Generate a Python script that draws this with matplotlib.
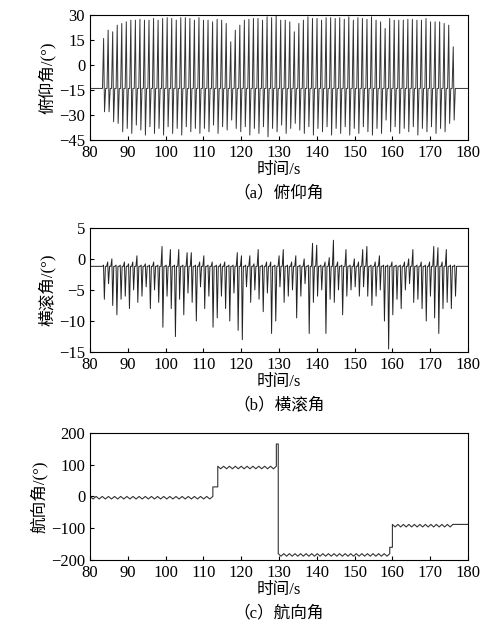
import numpy as np
import matplotlib
matplotlib.use('Agg')
import matplotlib.pyplot as plt

plt.rcParams['font.family'] = ['Liberation Serif', 'Noto Sans CJK SC']
plt.rcParams['font.size'] = 12

# --- data ---
# (a) pitch: per-cycle positive peak and negative peak, baseline
pitch_base = -14
pitch_hi = [16, 21, 20, 24, 25, 26, 27, 27, 27.5, 27, 27, 28, 27, 28, 28.5, 28, 27,
            28.5, 28.5, 28, 27, 28.5, 27, 27, 26, 27.5, 27, 25, 14, 21, 24, 27, 27.5,
            28, 28, 27, 29, 28.5, 29.5, 27, 27, 26, 20, 25, 27, 29, 28, 28, 27, 28.5,
            28.5, 28, 28.5, 27.5, 29, 27, 28.5, 28, 27.5, 29, 27, 26, 22, 28, 27, 27,
            27, 27.5, 27.5, 27, 27, 28, 26, 26, 26, 25, 24, 11]
pitch_lo = [-28, -28, -34, -35, -40, -38, -41, -36, -39, -42, -37, -41, -38, -42, -37,
            -41, -38, -42, -37, -40, -38, -41, -38, -40, -36, -41, -37, -39, -33, -38,
            -40, -37, -42, -38, -41, -37, -43, -38, -40, -36, -41, -38, -35, -39, -41,
            -37, -42, -38, -40, -37, -42, -38, -41, -37, -42, -38, -41, -37, -40, -42,
            -38, -41, -33, -40, -37, -41, -38, -40, -37, -42, -38, -40, -37, -41, -38,
            -40, -35, -33]
pitch_t0, pitch_t1 = 83.3, 175.8

# (b) roll: per-cycle upper spike and lower dip, baseline
roll_base = -1.2
roll_hi = [-1, -0.5, 0, -1, -1, -0.5, -0.8, -0.5, 0.5, -1, -0.8, -1, -0.5, -1, 2, -1, 1.5,
           -1, 1.5, -1, 1, 1, -1, -0.5, 0.5, -1, -0.5, -1, -0.8, -0.5, -1, -1, 1, 0.5,
           -1, 0.5, -0.8, 1.5, -1, -0.5, -0.5, -1, 0.5, 1.5, -1, -0.5, 0.5, -1, 0, -1,
           2.5, 2.2, -1, -0.5, 0.2, 3, -0.5, -1, 1.5, -1, 0, -0.5, 1.5, 2, -1, -0.5,
           0.5, -1, -1, -0.5, -1, -1, -0.5, 0, 1.5, -1, -0.5, -1, -0.5, 2, 1.8, -0.5,
           1.5, -1, -1]
roll_lo = [-6.5, -4, -7.5, -9, -6.5, -6, -8, -5, -7, -6, -4.5, -8, -5, -7, -11, -6, -8,
           -12.5, -6.5, -9, -5.5, -7, -10, -4.5, -8, -6, -11, -9.5, -6, -8, -10, -5.5,
           -11.5, -13, -4.5, -7, -5, -6.5, -8.5, -5.5, -12, -10, -4.5, -7, -6, -5,
           -9.5, -6, -4, -12, -7, -6, -5, -12, -6.5, -7, -5, -9, -6, -5, -4.5, -6,
           -4.5, -6, -7.5, -6, -5, -10, -14.5, -9, -6.5, -8, -5, -4, -7, -6.5, -8,
           -10, -6, -9.5, -12, -8, -7, -8, -6]
roll_t0, roll_t1 = 83.3, 176.2

# (c) heading: segment levels, ripple depth and ripple count
head_edges = [80, 112.5, 113.8, 129.3, 129.8, 159.3, 160.0, 176.0, 180]
head_levels = [0, 30, 95, 165, -180, -160, -88, -88]
head_ripples = [20, 0, 10, 0, 20, 0, 11, 0]
head_depth = [8, 0, 8, 0, 8, 0, 8, 0]


def spike_series(t0, t1, base, hi, lo):
    n = len(hi)
    starts = np.linspace(t0, t1, n)
    step = (t1 - t0) / (n - 1)
    t = [80.0]
    y = [base]
    for s, h, l in zip(starts, hi, lo):
        t += [s, s + 0.25 * step, s + 0.45 * step, s + 0.7 * step]
        y += [base, h, l, base]
    t.append(180.0)
    y.append(base)
    return np.array(t), np.array(y)


def heading_series():
    t, y = [], []
    for i, lev in enumerate(head_levels):
        a, b = head_edges[i], head_edges[i + 1]
        k = head_ripples[i]
        if k == 0:
            t += [a, b]
            y += [lev, lev]
        else:
            xs = np.linspace(a, b, k + 1)
            for j in range(k):
                m = 0.5 * (xs[j] + xs[j + 1])
                t += [xs[j], m, xs[j + 1]]
                y += [lev, lev - head_depth[i], lev]
    return np.array(t), np.array(y)


fig = plt.figure(figsize=(5, 6.31), dpi=100)
L, W = 0.18, 0.756

def style(ax, ylim, yticks, ylabel, caption):
    ax.set_xlim(80, 180)
    ax.set_ylim(*ylim)
    ax.set_xticks(range(80, 181, 10))
    ax.set_yticks(yticks)
    ax.tick_params(direction='in', length=3, labelsize=12, top=False, right=False)
    ax.set_ylabel(ylabel, fontsize=12, labelpad=2)
    ax.set_xlabel('时间/s', fontsize=12, labelpad=1)
    ax.text(0.5, -0.36, caption, transform=ax.transAxes, ha='center', va='top', fontsize=12)

ax1 = fig.add_axes([L, 0.778, W, 0.198])
t, y = spike_series(pitch_t0, pitch_t1, pitch_base, pitch_hi, pitch_lo)
ax1.plot(t, y, color='#333333', lw=0.7)
style(ax1, (-45, 30), range(-45, 31, 15), '俯仰角/(°)', '（a）俯仰角')

ax2 = fig.add_axes([L, 0.442, W, 0.197])
t, y = spike_series(roll_t0, roll_t1, roll_base, roll_hi, roll_lo)
ax2.plot(t, y, color='#222222', lw=0.7)
style(ax2, (-15, 5), range(-15, 6, 5), '横滚角/(°)', '（b）横滚角')

ax3 = fig.add_axes([L, 0.1125, W, 0.2015])
t, y = heading_series()
ax3.plot(t, y, color='#333333', lw=0.8)
style(ax3, (-200, 200), range(-200, 201, 100), '航向角/(°)', '（c）航向角')

fig.savefig('out.png', dpi=100)
